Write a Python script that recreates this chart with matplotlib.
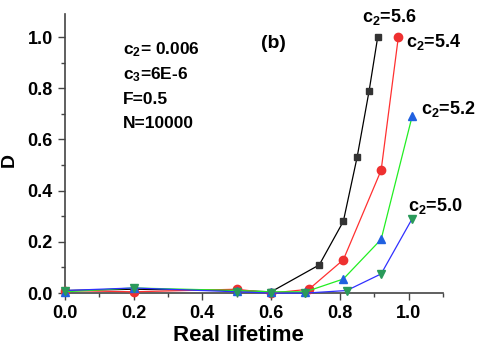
import matplotlib.pyplot as plt
from matplotlib.ticker import MultipleLocator

plt.rcParams['font.family'] = ['Liberation Sans', 'DejaVu Sans']
plt.rcParams['font.weight'] = 'bold'
plt.rcParams['mathtext.fontset'] = 'custom'
plt.rcParams['mathtext.rm'] = 'Liberation Sans:bold'
plt.rcParams['mathtext.it'] = 'Liberation Sans:bold'
plt.rcParams['mathtext.bf'] = 'Liberation Sans:bold'

# c2 = 5.6
x56 = [0.0, 0.2, 0.5, 0.6, 0.74, 0.81, 0.85, 0.885, 0.91]
y56 = [0.01, 0.015, 0.01, 0.005, 0.11, 0.28, 0.53, 0.79, 1.0]
# c2 = 5.4
x54 = [0.0, 0.2, 0.5, 0.6, 0.71, 0.81, 0.92, 0.97]
y54 = [0.01, 0.005, 0.015, 0.0, 0.015, 0.13, 0.48, 1.0]
# c2 = 5.2
x52 = [0.0, 0.2, 0.5, 0.6, 0.7, 0.81, 0.92, 1.01]
y52 = [0.005, 0.02, 0.01, 0.005, 0.005, 0.055, 0.21, 0.69]
# c2 = 5.0
x50 = [0.0, 0.2, 0.5, 0.6, 0.7, 0.82, 0.92, 1.01]
y50 = [0.01, 0.02, 0.005, 0.0, 0.0, 0.01, 0.075, 0.29]

fig = plt.figure(figsize=(4.8, 3.51), dpi=100)
ax = fig.add_axes([0.135, 0.165, 0.788, 0.795])

ax.plot(x56, y56, '-', color='black', lw=0.9, marker='s', ms=5,
        mfc='#333333', mec='#333333', clip_on=False, zorder=3)
ax.plot(x54, y54, '-', color='#ff3030', lw=0.9, marker='o', ms=6,
        mfc='#ee3030', mec='#ee3030', clip_on=False, zorder=3)
ax.plot(x52, y52, '-', color='#22ee22', lw=0.9, marker='^', ms=6,
        mfc='#2060e0', mec='#2060e0', clip_on=False, zorder=3)
ax.plot(x50, y50, '-', color='#3030ff', lw=0.9, marker='v', ms=6,
        mfc='#2a9a5a', mec='#2a9a5a', clip_on=False, zorder=3)

ax.set_xlim(0, 1.1)
ax.set_ylim(0, 1.09)
ax.xaxis.set_minor_locator(MultipleLocator(0.1))
ax.yaxis.set_minor_locator(MultipleLocator(0.1))
ax.set_xticks([0.0, 0.2, 0.4, 0.6, 0.8, 1.0])
ax.set_yticks([0.0, 0.2, 0.4, 0.6, 0.8, 1.0])
ax.spines['top'].set_visible(False)
ax.spines['right'].set_visible(False)
for s in ['left', 'bottom']:
    ax.spines[s].set_color('#444444')
    ax.spines[s].set_linewidth(1.2)
ax.tick_params(which='major', length=5, width=1, color='#444444', labelsize=13)
ax.tick_params(which='minor', length=3, width=1, color='#444444')

ax.set_xlabel('Real lifetime', fontsize=16, fontweight='bold')
ax.xaxis.set_label_coords(0.458, -0.115)
ax.set_ylabel('D', fontsize=14, fontweight='bold')
ax.yaxis.set_label_coords(-0.124, 0.477)

info = ['c$_2$= 0.006', 'c$_3$=6E-6', 'F=0.5', 'N=10000']
for i, t in enumerate(info):
    ax.text(0.153, 0.871 - i * 0.088, t, transform=ax.transAxes,
            fontsize=12.5, fontweight='bold', va='center')
ax.text(0.52, 0.896, '(b)', transform=ax.transAxes, fontsize=14,
        fontweight='bold', va='center')

ax.text(0.864, 1.08, 'c$_2$=5.6', fontsize=13, fontweight='bold', va='center')
ax.text(0.993, 0.98, 'c$_2$=5.4', fontsize=13, fontweight='bold', va='center')
ax.text(1.037, 0.72, 'c$_2$=5.2', fontsize=13, fontweight='bold', va='center')
ax.text(0.998, 0.34, 'c$_2$=5.0', fontsize=13, fontweight='bold', va='center')

fig.savefig('out.png', dpi=100)
